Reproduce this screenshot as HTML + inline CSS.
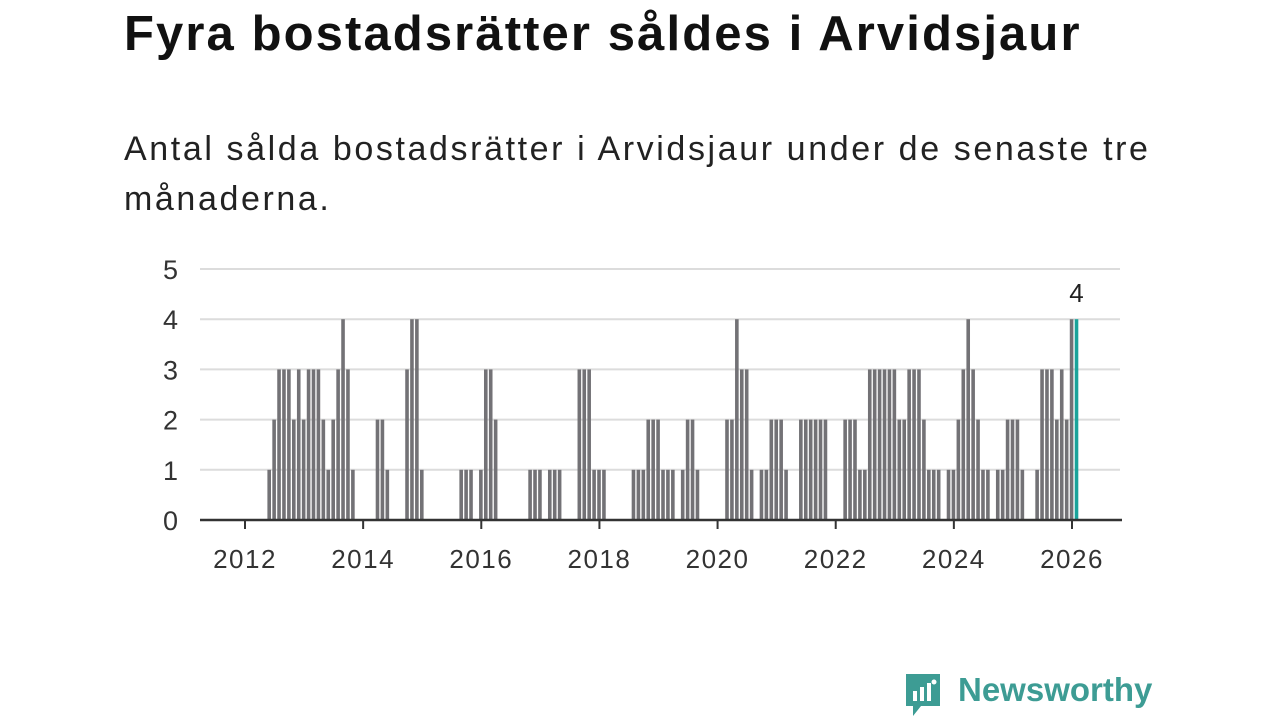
<!DOCTYPE html>
<html><head><meta charset="utf-8"><style>
body{margin:0;width:1280px;height:720px;background:#fff;overflow:hidden;font-family:"Liberation Sans",sans-serif}
h1{position:absolute;left:124px;top:6px;margin:0;font-size:49px;font-weight:bold;color:#111;letter-spacing:2.1px;white-space:nowrap}
p.sub{position:absolute;left:124px;top:124px;margin:0;font-size:34px;line-height:50px;color:#222;width:1140px;letter-spacing:2.6px;white-space:nowrap}
</style></head><body>
<h1>Fyra bostadsrätter såldes i Arvidsjaur</h1>
<p class="sub">Antal sålda bostadsrätter i Arvidsjaur under de senaste tre<br>månaderna.</p>
<svg id="chart" width="1280" height="720" style="position:absolute;left:0;top:0"></svg>
<div style="position:absolute;left:903px;top:671px;">
<svg width="40" height="48"><path d="M3 3h34v32H18l-8 10v-10H3z" fill="#3d9c94"/><rect x="10" y="20" width="4" height="10" fill="#fff"/><rect x="17" y="16" width="4" height="14" fill="#fff"/><rect x="24" y="12" width="4" height="18" fill="#fff"/><circle cx="31" cy="11" r="2.5" fill="#fff"/></svg>
<span style="position:absolute;left:55px;top:0px;font-size:33px;font-weight:bold;color:#3d9c94;white-space:nowrap">Newsworthy</span>
</div>
<script>
const monthIdx=[4,5,6,7,8,9,10,11,12,13,14,15,16,17,18,19,20,21,26,27,28,32,33,34,35,43,44,45,47,48,49,50,57,58,59,61,62,63,67,68,69,70,71,72,78,79,80,81,82,83,84,85,86,88,89,90,91,97,98,99,100,101,102,104,105,106,107,108,109,112,113,114,115,116,117,121,122,123,124,125,126,127,128,129,130,131,132,133,134,135,136,137,138,139,140,142,143,144,145,146,147,148,149,150,152,153,154,155,156,157,160,161,162,163,164,165,166,167,168];
const values=[1,2,3,3,3,2,3,2,3,3,3,2,1,2,3,4,3,1,2,2,1,3,4,4,1,1,1,1,1,3,3,2,1,1,1,1,1,1,3,3,3,1,1,1,1,1,1,2,2,2,1,1,1,1,2,2,1,2,2,4,3,3,1,1,1,2,2,2,1,2,2,2,2,2,2,2,2,2,1,1,3,3,3,3,3,3,2,2,3,3,3,2,1,1,1,1,1,2,3,4,3,2,1,1,1,1,2,2,2,1,1,3,3,3,2,3,2,4,4];
const yTicks=[0,1,2,3,4,5];
const xLabelYears=[2012,2014,2016,2018,2020,2022,2024,2026];
const NS="http://www.w3.org/2000/svg",svg=document.getElementById('chart');
const X0=245,MW=827/168,Y0=520,YU=50.2;
const x=i=>X0+i*MW, xy=yr=>X0+(yr-2012)*12*MW, y=v=>Y0-v*YU;
function mk(t,a,p){const e=document.createElementNS(NS,t);for(const k in a)e.setAttribute(k,a[k]);(p||svg).appendChild(e);return e;}
yTicks.forEach(v=>{
 if(v>0){const g=mk('line',{x1:200,x2:1120,y1:y(v),y2:y(v),stroke:'#dcdcdc','stroke-width':2});
 
 }
 const t=mk('text',{x:178,y:y(v)+10,'text-anchor':'end','font-size':27,fill:'#333','font-family':'Liberation Sans'});t.textContent=v;
 
 
});
monthIdx.forEach((m,k)=>{
 const last=k===monthIdx.length-1;
 const r=mk('rect',{x:x(m)+0.55*MW,y:y(values[k]),width:3.6,height:values[k]*YU,fill:last?'#1aa39a':'#737276'});
 
 
 if(last){const t=mk('text',{x:x(m)+0.55*MW+1.8,y:y(values[k])-17,'text-anchor':'middle','font-size':26,fill:'#222','font-family':'Liberation Sans'});t.textContent=values[k];
 
 }
});
const ax=mk('line',{x1:200,x2:1122,y1:Y0,y2:Y0,stroke:'#333','stroke-width':2.5});


xLabelYears.forEach(yr=>{const l=mk('line',{x1:xy(yr),x2:xy(yr),y1:Y0,y2:Y0+9,stroke:'#333','stroke-width':2});
 
 
 const t=mk('text',{x:xy(yr),y:568,'text-anchor':'middle','font-size':26,fill:'#333','font-family':'Liberation Sans','letter-spacing':1.5});t.textContent=yr;
 
 });
</script>
</body></html>
